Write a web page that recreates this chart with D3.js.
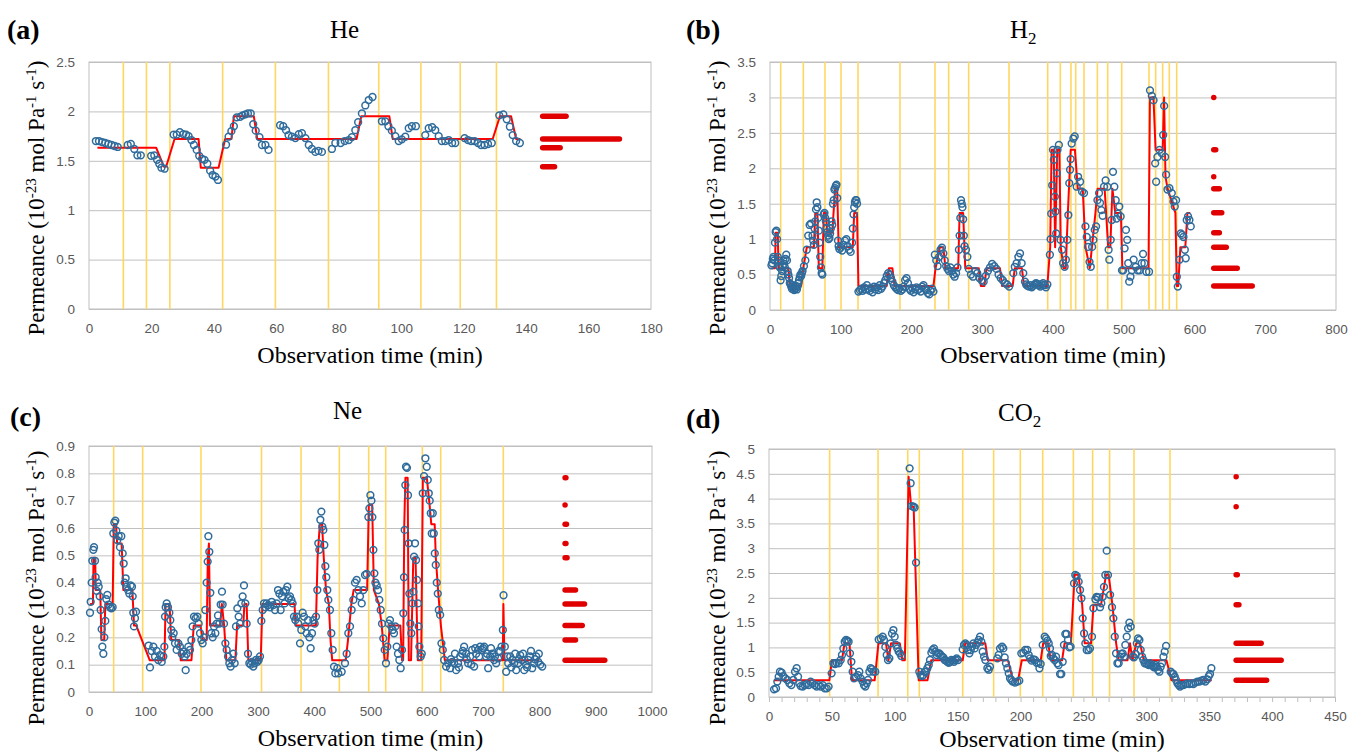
<!DOCTYPE html>
<html>
<head>
<meta charset="utf-8">
<title>Permeance of He, H2, Ne and CO2 versus observation time</title>
<style>
  body { margin: 0; background: #fff; }
  svg text { font-family: "Liberation Serif", "Times New Roman", serif; }
  .axis text { font-family: "Liberation Sans", Arial, sans-serif; }
</style>
</head>
<body>
<script src="https://d3js.org/d3.v7.min.js"></script>
<script>

// ---------- (a) He ----------
var heObs = [[2.2,1.70],[3.2,1.70],[4.2,1.69],[5.2,1.68],[6.2,1.67],[7.2,1.66],[8.2,1.65],[9.2,1.64],
  [12.4,1.66],[13.4,1.67],[14.5,1.62],[15.5,1.555],[16.6,1.555],
  [19.9,1.55],[20.9,1.555],[21.8,1.51],[22.5,1.47],[23.2,1.43],[24.2,1.42],
  [27.1,1.765],[28.1,1.765],[29.1,1.79],[30.2,1.77],[31.1,1.765],[31.9,1.75],[32.8,1.71],[33.6,1.66],[34.5,1.61],
  [35.3,1.55],[36.2,1.52],[37,1.51],[37.9,1.47],[38.8,1.40],[39.6,1.356],[40.5,1.34],[41.3,1.306],
  [43.9,1.663],[44.7,1.744],[45.6,1.80],[46.4,1.85],[47.3,1.94],[48.4,1.945],[49.2,1.96],[50.1,1.97],[50.9,1.98],
  [51.8,1.98],[52.6,1.87],[53.4,1.805],[54.6,1.74],[55.4,1.66],[56.5,1.66],[57.5,1.61],
  [61.2,1.86],[62.2,1.85],[63.1,1.81],[63.9,1.76],[65,1.745],[66.1,1.73],[67.2,1.77],[68.2,1.78],[69.3,1.73],
  [70.4,1.66],[71.4,1.62],[72.5,1.59],[73.5,1.60],[74.6,1.59],
  [77.8,1.62],[78.9,1.68],[80.6,1.68],[81.9,1.70],[83.2,1.71],[84.2,1.74],[85.3,1.81],[86.2,1.89],[87.4,1.98],
  [88.5,2.06],[89.6,2.115],[90.8,2.146],
  [93.8,1.90],[94.9,1.90],[95.9,1.85],[97,1.805],[98.1,1.75],[99.2,1.70],[100.2,1.717],[101.3,1.744],[102.4,1.83],
  [103.4,1.85],[104.7,1.85],
  [107.7,1.76],[108.8,1.83],[109.9,1.84],[110.9,1.81],[112,1.75],[113,1.70],[114.1,1.70],[115.2,1.71],[116.3,1.68],[117.3,1.68],
  [120.3,1.73],[121.4,1.71],[122.4,1.70],[123.5,1.70],[124.6,1.68],[125.6,1.66],[126.7,1.66],[127.8,1.67],[129,1.68],
  [131.4,1.96],[132.7,1.97],[133.8,1.92],[134.8,1.845],[135.7,1.76],[136.8,1.70],[138,1.68]];
var heFit = [[2.7,1.633],[21.5,1.633],[24.0,1.44],[24.7,1.44],[27.4,1.72],[35.1,1.72],[35.8,1.43],[41.5,1.43],
  [43.6,1.72],[45.6,1.72],[46.4,1.95],[52.8,1.95],[53.9,1.72],[85.7,1.72],[87.2,1.95],[96.2,1.95],[97.3,1.72],
  [129.3,1.72],[131.6,1.95],[135.2,1.95],[136.8,1.72],[138.2,1.72]];
var heEvents = [11, 18.4, 25.9, 42.8, 59.7, 76.7, 92.8, 106.3, 118.9, 130.5];
var heHistStart = 145.3;
var heHistLevel = [1.95, 1.72, 1.633, 1.44];
var heHistLen = [7.5, 24.6, 5.6, 3.8];
var heXTicks = [0, 20, 40, 60, 80, 100, 120, 140, 160, 180];
var heYTicks = [0, 0.5, 1, 1.5, 2, 2.5];

// ---------- (b) H2 ----------
var h2Obs = [[2,0.63],[3,0.66],[4,0.72],[5,0.75],[6,0.70],[7,0.95],[8,1.10],[9,1.12],[10,1.00],[11,0.75],[12,0.70],
  [13,0.62],[14,0.60],[15,0.42],[16,0.48],[17,0.55],[18,0.62],[19,0.70],[20,0.65],[21,0.60],[22,0.72],[23,0.78],
  [24,0.70],[25,0.55],[26,0.50],[27,0.45],[28,0.38],
  [29,0.36],[30,0.33],[31,0.30],[32,0.35],[33,0.32],[34,0.28],[35,0.30],[36,0.34],[37,0.31],[38,0.29],[39,0.33],
  [40,0.38],[41,0.42],[42,0.46],[43,0.50],[44,0.48],[45,0.52],
  [46,0.55],[48,0.62],[50,0.70],[52,0.85],[54,1.05],[56,1.20],[58,1.22],[60,1.05],[61,0.98],[62,0.92],[63,1.15],
  [64,1.25],[65,1.42],[66,1.52],[67,1.45],[68,1.30],[69,1.12],[70,0.95],[71,0.75],[72,0.60],[73,0.52],[74,0.50],
  [76,1.35],[77,1.37],[78,1.30],[79,1.25],[80,1.15],[81,1.10],[82,1.05],[83,1.00],[84,1.02],[85,1.08],[86,1.15],
  [87,1.25],[88,1.20],[89,1.50],[90,1.55],[91,1.70],[92,1.72],[93,1.75],[94,1.77],[95,1.58],[96,0.98],[97,0.90],[98,0.86],
  [100,0.88],[102,0.84],[104,0.92],[106,0.98],[108,1.00],[110,0.90],[112,0.85],[114,0.82],[116,0.95],[117,1.15],
  [118,1.35],[119,1.45],[120,1.52],[121,1.55],[122,1.55],[123,1.50],
  [125,0.26],[127,0.28],[129,0.30],[131,0.27],[133,0.32],[135,0.29],[137,0.35],[139,0.30],[141,0.27],[143,0.31],
  [145,0.25],[147,0.33],[149,0.29],[151,0.32],[153,0.28],[155,0.35],[157,0.30],[159,0.33],[161,0.38],[163,0.42],
  [165,0.48],[167,0.52],[169,0.50],[171,0.45],[173,0.40],[175,0.35],[177,0.32],[179,0.30],[181,0.28],[183,0.31],
  [185,0.27],[187,0.29],[189,0.33],[191,0.42],[193,0.45],[195,0.38],[197,0.30],[199,0.27],[201,0.31],[203,0.25],
  [205,0.29],[207,0.32],[209,0.28],[211,0.30],[213,0.26],[215,0.33],[217,0.35],[219,0.30],[221,0.28],[223,0.24],
  [225,0.22],[227,0.27],[229,0.30],[231,0.26],
  [233,0.78],[235,0.70],[237,0.62],[239,0.75],[241,0.85],[243,0.88],[245,0.80],[247,0.70],[249,0.62],[251,0.58],
  [253,0.55],[255,0.60],[257,0.55],[259,0.50],[261,0.47],[263,0.52],[265,0.60],[267,0.85],[268,1.05],[269,1.30],
  [270,1.55],[271,1.50],[272,1.45],[273,1.28],[274,1.05],[275,0.90],[277,0.85],[279,0.75],
  [281,0.58],[284,0.50],[287,0.47],[290,0.55],[293,0.52],[296,0.45],[299,0.42],[302,0.40],[305,0.48],[308,0.55],
  [311,0.60],[314,0.65],[317,0.62],[320,0.58],[323,0.50],[326,0.45],[329,0.42],[332,0.38],[335,0.36],[338,0.33],
  [343.9,0.52],[346,0.61],[348.6,0.66],[351,0.75],[353.4,0.80],[355.7,0.66],[358,0.52],[360.4,0.40],
  [362,0.36],[364,0.34],[366,0.33],[368,0.35],[370,0.32],[372,0.34],[374,0.36],[376,0.38],[378,0.37],[380,0.35],
  [382,0.33],[384,0.36],[386,0.38],[388,0.35],[390,0.32],[392,0.36],
  [395.6,0.78],[396.6,1.0],[397.5,1.36],[398.9,1.76],[399.9,2.26],[401.2,2.12],[402.6,1.60],[403.5,1.39],[404.5,1.08],
  [405.4,1.93],[406.4,2.26],[408.3,2.33],[410.6,0.99],[412.9,0.85],[414.3,0.66],[416.4,0.61],[418.2,0.71],[420.3,0.99],
  [421.7,1.34],[423,1.79],[424.1,1.98],[425,2.13],[426.4,2.35],[428.8,2.42],[430.7,2.45],[433.5,1.74],[435.5,1.88],
  [438.3,1.81],[441.1,1.67],[443.9,1.65],[445.9,1.18],[447.7,1.03],[449.5,0.89],[451.6,0.68],[453.4,0.61],[455.3,0.89],
  [457.2,0.99],[459,1.13],[460.9,1.18],[462.8,1.55],[465.1,1.65],[466.5,1.51],[468.4,1.41],[470.2,1.33],[472.1,1.74],
  [474.4,1.83],[476.8,1.74],[478.6,0.85],[479.6,0.71],[481.6,0.99],[483,1.27],[484.8,1.95],[486.7,1.74],[488.6,1.55],
  [489.9,1.29],[491.8,1.36],[493.7,1.46],[495.6,1.32],[497.5,0.56],[499.3,0.56],[501.2,0.87],[503.1,1.13],[504.9,0.99],
  [506.3,0.66],[507.7,0.40],[509.5,0.47],[511.4,0.56],[514,0.71],[516.9,0.61],[519.7,0.56],[522.5,0.56],[525.4,0.66],
  [527.3,0.79],[529.2,0.66],[532,0.54],[535.8,0.54],[537.1,3.10],[539.7,3.02],[542.1,2.96],[544.4,2.07],[545.8,1.81],
  [547.6,2.16],[550.5,2.26],[553.8,2.21],[555.7,2.47],[557.1,2.88],[558.5,2.16],[559.9,1.91],[561.8,1.70],[564.6,1.72],
  [567.9,1.65],[570.3,1.53],[572.1,1.46],[574,1.55],[575,0.47],[576.4,0.33],[578.7,0.71],[580.6,1.08],[582.5,1.06],
  [584.4,1.03],[586.3,0.85],[587.6,0.73],[589,1.27],[590.9,1.32],[592.8,1.27],[594.7,1.18]];
var h2Fit = [[2,0.59],[7,0.59],[8,1.09],[11,1.09],[12,0.59],[26,0.59],[28,0.34],[44,0.34],[47,0.59],[52,0.885],
  [62,0.885],[64,1.37],[67,1.37],[69,0.59],[74,0.59],[76,1.37],[79,1.37],[81,1.09],[88,1.09],[92,1.71],[95,1.71],
  [97,0.885],[117,0.885],[119,1.37],[123,1.37],[125,0.34],[165,0.34],[168,0.59],[173,0.59],[176,0.34],[231,0.34],
  [234,0.59],[240,0.885],[245,0.885],[248,0.59],[266,0.59],[268,1.37],[273,1.37],[276,0.59],[295,0.59],[298,0.34],
  [303,0.34],[306,0.59],[325,0.59],[328,0.34],[343,0.34],[346,0.59],[356,0.59],[359,0.34],[392,0.34],[396,0.885],
  [398,2.26],[401,2.26],[403,0.885],[406,2.26],[409,2.26],[411,0.885],[415,0.59],[418,0.59],[421,1.37],[425,2.26],
  [431,2.26],[435,1.71],[442,1.71],[446,0.885],[452,0.59],[455,0.885],[460,1.37],[463,1.71],[473,1.71],[478,0.885],
  [481,0.885],[484,1.71],[488,1.37],[496,1.37],[498,0.59],[535,0.59],[537,3.0],[542,3.0],[545,2.26],[555,2.26],
  [557,3.0],[559,1.88],[562,1.71],[573,1.37],[575,0.34],[577,0.34],[580,0.885],[587,0.885],[590,1.37],[594,1.37]];
var h2Events = [15.1, 47.1, 77.7, 100.4, 124.4, 183.7, 233.2, 252.5, 280.8, 337.8, 392.5, 410.3, 425.4, 432.1,
  443.8, 462.7, 477.3, 497.1, 535.7, 545.1, 555, 564.4, 574.8];
var h2HistStart = 627.2;
var h2HistLevel = [3.0, 2.262, 1.88, 1.712, 1.373, 1.091, 0.885, 0.588, 0.339];
var h2HistLen = [0, 2.8, 0, 7.9, 11.3, 7.9, 17.7, 33.2, 54.4];
var h2XTicks = [0, 100, 200, 300, 400, 500, 600, 700, 800];
var h2YTicks = [0, 0.5, 1, 1.5, 2, 2.5, 3, 3.5];

// ---------- (c) Ne ----------
var neObs = [[1.8,0.29],[3,0.33],[4.7,0.40],[5.9,0.48],[7.7,0.52],[8.9,0.53],[10.7,0.48],[11.8,0.42],[13.6,0.37],
  [15.4,0.40],[17.2,0.385],[19,0.35],[20.7,0.30],[22.5,0.23],[23.7,0.166],[25.5,0.14],[27.2,0.20],[29,0.26],[30.8,0.34],
  [32.6,0.355],[34.9,0.32],[37.3,0.31],[39.7,0.306],[42,0.31],[43.2,0.58],[45,0.62],[46.8,0.627],[48.5,0.59],
  [50.3,0.556],[52.7,0.57],[55,0.53],[57.4,0.57],[59.8,0.507],[61.6,0.47],[63.4,0.40],[65.1,0.416],[66.9,0.385],
  [69.3,0.373],[71.6,0.36],[74,0.39],[76.4,0.385],[77.6,0.35],[78.7,0.29],[79.9,0.24],[81.7,0.27],[83.5,0.294],
  [106,0.17],[108.3,0.09],[111.3,0.15],[114.3,0.166],[117.2,0.13],[120.2,0.15],[123.1,0.117],[126.1,0.135],
  [129.1,0.11],[132,0.13],[133.8,0.166],[135,0.276],[136.2,0.31],[138,0.324],[140.3,0.31],[142.7,0.29],[144.5,0.263],
  [146.2,0.227],[148,0.2],[150.4,0.215],[152.8,0.178],[155.7,0.154],[158.7,0.178],[161.6,0.166],[164.6,0.14],
  [167.6,0.148],[169.9,0.13],[171.7,0.08],[173.5,0.14],[176.4,0.166],[179.4,0.154],[181.8,0.19],[184.1,0.24],
  [186.5,0.276],[189.5,0.27],[192.4,0.276],[194.8,0.25],[197.2,0.215],[199.5,0.19],[201.9,0.178],[204.3,0.2],
  [206.6,0.3],[209,0.4],[210.8,0.477],[212,0.57],[213.7,0.513],[215.5,0.363],[217.3,0.215],[219.7,0.2],[222,0.24],
  [224.4,0.215],[226.8,0.25],[229.1,0.28],[231.5,0.25],[233.9,0.32],[236.2,0.367],[237.4,0.32],[239.8,0.25],
  [242.2,0.178],[244.5,0.154],[246.9,0.13],[249.3,0.105],[251.6,0.093],[254,0.117],[256.4,0.14],[258.7,0.105],
  [261.1,0.24],[263.5,0.306],[265.8,0.276],[268.2,0.25],[270.6,0.324],[272.9,0.35],[275.3,0.39],[277.7,0.324],
  [280,0.25],[282.4,0.14],[284.8,0.105],[287.2,0.1],[289.5,0.11],[291.9,0.093],[294.3,0.105],[296.6,0.117],[299,0.11],
  [301.4,0.117],[303.7,0.13],[306.1,0.26],[308.5,0.3],[310.8,0.324],[313.2,0.31],[315.6,0.324],[318.5,0.318],
  [321.5,0.31],[324.5,0.33],[327.4,0.318],[330.4,0.3],[333.3,0.324],[335.7,0.373],[338.1,0.36],[340.4,0.3],
  [342.8,0.35],[345.2,0.367],[347.5,0.324],[349.9,0.373],[352.3,0.385],[354.6,0.343],[357,0.35],[359.4,0.337],
  [361.7,0.324],[364.1,0.276],[366.5,0.263],[368.8,0.276],[371.8,0.25],[374.8,0.178],[377.1,0.227],[379.5,0.29],
  [381.9,0.276],[384.2,0.24],[386.6,0.215],[389,0.263],[391.4,0.2],[393.7,0.16],[396.1,0.215],[398.5,0.263],
  [400.8,0.25],[403.2,0.276],[405.6,0.373],[407.3,0.544],[409.1,0.52],[410.9,0.63],[412.7,0.66],[414.4,0.605],
  [416.2,0.593],[418,0.538],[419.8,0.46],[421.5,0.42],[423.3,0.373],[425.1,0.337],[428,0.3],[430.4,0.215],
  [432.8,0.154],[435.2,0.093],[437.5,0.068],[441.1,0.087],[442.8,0.068],[448.8,0.074],[454.7,0.105],[457.7,0.14],
  [460.6,0.215],[463.6,0.24],[466.5,0.3],[469.5,0.337],[472.5,0.4],[475.4,0.41],[478.4,0.373],[481.4,0.35],
  [484.4,0.324],[487.3,0.373],[490.3,0.428],[493.2,0.432],[496.2,0.64],[498,0.672],[499.8,0.72],[501.6,0.70],
  [503.3,0.64],[505.1,0.52],[506.9,0.434],[508.7,0.4],[511,0.39],[513.4,0.373],[515.7,0.337],[518.1,0.3],[520.5,0.25],
  [522.8,0.196],[525.2,0.154],[527.5,0.105],[529.9,0.166],[532.3,0.25],[534.6,0.263],[537,0.24],[539.4,0.227],
  [541.7,0.215],[544.1,0.24],[546.5,0.166],[548.8,0.14],[551.2,0.117],[553.6,0.087],[555.9,0.154],[558.3,0.288],
  [559.5,0.42],[560.7,0.593],[561.9,0.757],[563.1,0.824],[564.8,0.82],[566.6,0.72],[567.8,0.544],[569,0.36],
  [570.8,0.25],[572.5,0.215],[574.3,0.324],[576.1,0.367],[577.3,0.495],[579.1,0.544],[580.9,0.483],[582.6,0.41],
  [584.4,0.324],[585.6,0.24],[586.8,0.166],[589.2,0.13],[591,0.14],[592.8,0.727],[595.1,0.79],[597.5,0.855],
  [599.9,0.824],[601.7,0.776],[603.5,0.727],[605.2,0.70],[607,0.654],[608.8,0.58],[610.6,0.654],[612.4,0.58],
  [614.2,0.507],[615.9,0.465],[617.7,0.4],[619.5,0.36],[621.3,0.3],[623.7,0.282],[626,0.178],[628.4,0.154],
  [630.8,0.117],[634.3,0.093],[637.9,0.105],[641.4,0.087],[643,0.12],[645,0.11],[648.5,0.105],[650,0.14],[652.1,0.08],
  [655.6,0.105],[657,0.09],[659.2,0.13],[662.8,0.14],[664,0.15],[666.3,0.166],[669.9,0.14],[671,0.12],[673.4,0.105],
  [677,0.13],[679,0.1],[680.5,0.154],[684.1,0.093],[686,0.16],[687.7,0.14],[691.2,0.154],[693,0.13],[694.8,0.166],
  [698.3,0.154],[700,0.16],[701.9,0.166],[705.4,0.13],[707,0.14],[709,0.087],[712.5,0.13],[714,0.16],[716.1,0.14],
  [719.6,0.117],[721,0.13],[723.2,0.105],[726.8,0.123],[728,0.15],[730.3,0.148],[732.7,0.166],[735.1,0.227],
  [736.3,0.354],[738.6,0.166],[741,0.074],[743,0.13],[744.6,0.105],[748.1,0.13],[750,0.09],[751.7,0.117],[755.2,0.105],
  [757,0.14],[758.8,0.08],[762.3,0.105],[764,0.12],[765.9,0.135],[769.4,0.117],[771,0.14],[773,0.08],[776.5,0.1],
  [778,0.09],[780.1,0.117],[783.7,0.13],[785,0.15],[787.2,0.087],[790.8,0.105],[792,0.12],[794.3,0.13],[797.9,0.11],
  [799,0.14],[801.5,0.1],[805,0.093]];
var neFit = [[2,0.322],[7,0.322],[8,0.491],[11,0.491],[12,0.373],[20,0.373],[22,0.19],[27,0.19],[29,0.322],
  [42,0.322],[44,0.614],[48,0.614],[50,0.543],[58,0.543],[61,0.373],[77,0.373],[80,0.243],[84,0.243],[108,0.116],
  [134,0.116],[136,0.322],[143,0.322],[146,0.19],[160,0.19],[163,0.116],[182,0.116],[186,0.243],[198,0.243],
  [202,0.19],[209,0.19],[211,0.491],[213,0.543],[215,0.243],[233,0.243],[236,0.322],[240,0.243],[244,0.116],
  [260,0.116],[263,0.243],[274,0.243],[276,0.322],[280,0.322],[283,0.116],[305,0.116],[308,0.322],[365,0.322],
  [367,0.243],[403,0.243],[406,0.491],[410,0.614],[414,0.614],[417,0.491],[421,0.373],[426,0.322],[429,0.19],
  [432,0.116],[456,0.116],[460,0.19],[466,0.322],[470,0.373],[494,0.373],[497,0.684],[503,0.684],[506,0.373],
  [515,0.322],[520,0.243],[525,0.116],[530,0.116],[534,0.243],[553,0.243],[556,0.116],[558,0.116],[560,0.614],
  [562,0.784],[566,0.784],[568,0.116],[572,0.116],[576,0.491],[580,0.491],[584,0.116],[590,0.116],[593,0.784],
  [600,0.784],[605,0.684],[608,0.614],[614,0.614],[616,0.491],[620,0.373],[625,0.243],[628,0.19],[632,0.116],
  [735,0.116],[736,0.322],[738,0.116],[800,0.116]];
var neEvents = [43.8, 95.3, 198.9, 306.4, 376.6, 444.7, 496.8, 527, 592.1, 624.7, 735.9];
var neHistStart = 845.6;
var neHistLevel = [0.784, 0.684, 0.614, 0.543, 0.491, 0.373, 0.322, 0.243, 0.19, 0.116];
var neHistLen = [1.5, 0, 2.5, 1.5, 3.5, 18.5, 34.5, 30.5, 18.5, 70.5];
var neXTicks = [0, 100, 200, 300, 400, 500, 600, 700, 800, 900, 1000];
var neYTicks = [0, 0.1, 0.2, 0.3, 0.4, 0.5, 0.6, 0.7, 0.8, 0.9];

// ---------- (d) CO2 ----------
var co2Obs = [[4,0.155],[5.6,0.175],[6.6,0.31],[7.7,0.41],[8.7,0.51],[10.1,0.49],[11.4,0.42],[13,0.376],[14.6,0.343],
  [16.2,0.276],[17.8,0.24],[19.3,0.343],[20.7,0.51],[22,0.58],[23.1,0.41],[24.1,0.276],[25.2,0.22],[26.8,0.21],
  [28.4,0.24],[29.9,0.26],[31.5,0.24],[33.1,0.31],[34.7,0.276],[36.3,0.24],[37.9,0.21],[39.5,0.24],[41.1,0.21],
  [42.7,0.24],[44.3,0.175],[45.9,0.175],[47.4,0.21],
  [49.8,0.477],[51.2,0.68],[52.5,0.665],[53.8,0.69],[55.4,0.68],[57,0.746],[58,0.847],[59.1,0.98],[60.2,1.115],
  [61.2,1.15],[62.3,1.136],[63.3,1.115],[64.4,0.88],[65.5,0.71],[66.5,0.51],[67.6,0.376],[69.2,0.41],[70.8,0.44],
  [71.8,0.51],[72.9,0.376],[74.5,0.31],[75.5,0.24],[76.6,0.21],[77.7,0.276],[78.7,0.343],[79.8,0.51],[80.8,0.58],
  [81.9,0.56],[83,0.51],[84.5,0.51],
  [87.2,1.16],[88.8,1.18],[90.4,1.216],[91.4,1.15],[92.5,1.01],[93.6,0.847],[94.6,0.746],[95.7,0.78],[96.7,1.08],
  [97.8,1.28],[98.9,1.35],[99.9,1.216],[101,1.05],[102,0.98],[103.1,0.914],[104.2,0.88],[105.2,0.827],
  [111.8,4.61],[112.6,4.31],[113.4,3.85],[114.8,3.84],[115.8,3.82],[116.9,2.71],
  [119.5,0.51],[120.6,0.44],[121.7,0.42],[122.7,0.44],[123.8,0.51],[124.8,0.51],[125.9,0.58],[127,0.645],[128,0.746],
  [129.1,0.894],[130.1,0.948],[131.2,0.98],[132.3,0.914],[133.3,0.847],[134.4,0.88],[135.4,0.88],[136.5,0.847],
  [137.6,0.813],[138.6,0.8],[139.7,0.746],[140.7,0.733],[141.8,0.71],[142.9,0.69],[143.9,0.71],[145,0.746],
  [146,0.733],[147.1,0.71],[148.2,0.746],[149.2,0.78],[150.3,0.746],
  [154,0.96],[155,1.05],[156.1,1.08],[157.2,1.05],[158.2,0.948],[159.3,0.88],[160.4,0.948],[161.4,1.015],[162.5,1.08],
  [163.5,0.98],[164.6,1.05],[165.7,1.095],[166.7,1.15],[167.8,1.216],[168.8,1.115],[169.9,0.914],[171,0.813],
  [172,0.746],[173.6,0.58],[174.7,0.55],[175.7,0.61],
  [181.5,0.78],[182.6,0.85],[183.7,0.98],[185.3,1.015],[186.3,0.98],[187.4,0.8],[188.4,0.68],[189.5,0.58],
  [190.6,0.477],[191.6,0.376],[192.7,0.343],[193.7,0.31],[195.6,0.29],[197.5,0.31],[199,0.33],
  [200.6,0.88],[202.2,0.894],[203.7,0.948],[205.4,0.948],[206.5,0.847],[207.5,0.78],[208.8,0.733],[210.2,0.76],
  [211.5,0.746],[212.8,0.69],[214.2,0.69],[215,0.58],[216,0.665],[217.6,1.05],[219.2,1.216],[220.3,1.18],
  [221.3,1.136],[222.4,1.08],[223.4,0.98],[224,0.827],[225,0.847],[226.1,0.78],[227.1,0.746],[228.2,0.813],
  [229.2,0.68],[230.3,0.645],[231.4,0.464],[232.4,0.464],[233.5,0.71],[234.5,1.05],[235.6,1.27],[236.6,1.27],
  [237.7,1.15],[238.8,1.0],[239.8,1.015],
  [242.5,2.29],[243.5,2.46],[244.6,2.44],[246.2,2.325],[247.3,2.157],[248.4,1.99],[249.4,1.586],[250.5,1.28],
  [251.5,1.08],[252.6,0.948],[254,0.948],[255.2,0.98],[256.8,1.216],[257.9,1.79],[259.5,1.97],[260.5,2.02],
  [261.6,2.01],[263.2,1.81],[264.2,1.89],[265.3,2.02],[266.3,2.22],[267.4,2.46],[268.5,2.95],[269.5,2.46],
  [271.2,2.06],[272.7,1.81],[273.8,1.586],[274.9,1.216],[275.9,0.88],[277,0.68],[278,0.68],[279.1,0.813],
  [280.2,0.867],[281.2,0.88],[282.3,0.813],[283.3,1.05],[284.4,1.216],[285.5,1.384],[286.5,1.5],[287.6,1.42],
  [289.2,0.813],[290.2,0.8],[291.3,0.867],[292.4,1.08],[293.4,1.18],[294.5,1.15],[295.5,0.948],[296.6,0.813],
  [297.6,0.746],[298.7,0.68],[299.8,0.68],[300.8,0.665],[301.9,0.645],[302.9,0.68],[304,0.645],[305.1,0.625],
  [306.1,0.6],[307.2,0.645],[308.3,0.61],[309.3,0.544],[310.4,0.51],[311.4,0.61],[312.5,0.68],[313.6,0.813],
  [314.6,0.914],[315.7,1.03],
  [319.4,0.51],[320.4,0.477],[321.5,0.464],[322.6,0.41],[323.6,0.343],[324.7,0.276],[325.8,0.24],[326.8,0.21],
  [327.9,0.24],[329.5,0.24],[331.1,0.26],[332.6,0.276],[334.2,0.26],[335.8,0.276],[337.4,0.26],[339,0.29],
  [340.6,0.31],[342.2,0.31],[343.7,0.33],[345.3,0.343],[346.9,0.31],[348.5,0.356],[349.6,0.42],[350.6,0.464],[351.7,0.58]];
var co2Fit = [[4,0.336],[48,0.336],[50,0.74],[58,0.74],[60,1.082],[64,1.082],[66,0.336],[84,0.336],[87,1.082],
  [93,1.082],[95,0.74],[97,1.082],[104,1.082],[106,0.74],[108,0.74],[111,4.44],[113,3.837],[115,3.837],[119,0.336],
  [126,0.336],[129,0.74],[154,0.74],[156,1.082],[172,1.082],[174,0.74],[190,0.74],[194,0.336],[198,0.336],
  [201,0.74],[216,0.74],[218,1.082],[222,1.082],[224,0.74],[233,0.74],[235,1.082],[240,1.082],[243,2.466],
  [246,2.466],[249,1.861],[251,1.082],[256,1.082],[258,1.861],[264,1.861],[268,2.466],[270,2.466],[273,1.861],
  [276,1.082],[278,0.74],[285,0.74],[287,1.082],[289,0.74],[292,1.082],[295,1.082],[298,0.74],[316,0.74],
  [320,0.336],[352,0.336]];
var co2Events = [48.2, 86.7, 110.3, 119.5, 154, 178.6, 199.8, 217.6, 242, 257.3, 270.8, 290.2, 318.8];
var co2HistStart = 371.4;
var co2HistLevel = [4.44, 3.837, 2.466, 1.861, 1.082, 0.74, 0.336];
var co2HistLen = [0, 0, 0.9, 2.2, 19.9, 35.8, 24.2];
var co2XTicks = [0, 50, 100, 150, 200, 250, 300, 350, 400, 450];
var co2YTicks = [0, 0.5, 1, 1.5, 2, 2.5, 3, 3.5, 4, 4.5, 5];

// ---------- drawing ----------
var svg = d3.select("body").append("svg")
    .attr("width", 1349)
    .attr("height", 755);

var panels = [
  {tag: "(a)", tagX: 7, tagY: 39, gas: "He", sub: "", gasX: 330, gasY: 38,
   left: 89, right: 651, top: 62, bottom: 309, xMax: 180, yMax: 2.5,
   xTicks: heXTicks, yTicks: heYTicks, obs: heObs, fit: heFit, events: heEvents,
   histStart: heHistStart, histLevel: heHistLevel, histLen: heHistLen,
   yLabX: 44, yLabY: 198, xLabY: 363, minor: 0},
  {tag: "(b)", tagX: 686, tagY: 39, gas: "H", sub: "2", gasX: 1010, gasY: 38,
   left: 770, right: 1336, top: 62, bottom: 310, xMax: 800, yMax: 3.5,
   xTicks: h2XTicks, yTicks: h2YTicks, obs: h2Obs, fit: h2Fit, events: h2Events,
   histStart: h2HistStart, histLevel: h2HistLevel, histLen: h2HistLen,
   yLabX: 725, yLabY: 198, xLabY: 363, minor: 0},
  {tag: "(c)", tagX: 10, tagY: 426, gas: "Ne", sub: "", gasX: 333, gasY: 419,
   left: 89, right: 652, top: 446, bottom: 692, xMax: 1000, yMax: 0.9,
   xTicks: neXTicks, yTicks: neYTicks, obs: neObs, fit: neFit, events: neEvents,
   histStart: neHistStart, histLevel: neHistLevel, histLen: neHistLen,
   yLabX: 44, yLabY: 588, xLabY: 746, minor: 0},
  {tag: "(d)", tagX: 686, tagY: 428, gas: "CO", sub: "2", gasX: 998, gasY: 421,
   left: 769, right: 1335, top: 449, bottom: 697, xMax: 450, yMax: 5,
   xTicks: co2XTicks, yTicks: co2YTicks, obs: co2Obs, fit: co2Fit, events: co2Events,
   histStart: co2HistStart, histLevel: co2HistLevel, histLen: co2HistLen,
   yLabX: 725, yLabY: 588, xLabY: 747, minor: 10}
];

panels.forEach(drawPanel);

function drawPanel(p) {
  var g = svg.append("g");
  var x = d3.scaleLinear().domain([0, p.xMax]).range([p.left, p.right]);
  var y = d3.scaleLinear().domain([0, p.yMax]).range([p.bottom, p.top]);
  var fmt = d3.format("~g");

  // horizontal grid + y tick labels
  var ya = g.append("g").attr("class", "axis")
      .attr("transform", "translate(" + p.left + ",0)")
      .call(d3.axisLeft(y).tickValues(p.yTicks).tickSize(-(p.right - p.left))
            .tickPadding(14).tickFormat(fmt));
  ya.select(".domain").remove();
  ya.selectAll("line").attr("stroke", "#c0c0c0");
  ya.selectAll("text").attr("fill", "#595959").style("font-size", "13.5px");

  // x tick labels
  var xa = g.append("g").attr("class", "axis")
      .attr("transform", "translate(0," + p.bottom + ")")
      .call(d3.axisBottom(x).tickValues(p.xTicks).tickSize(0).tickPadding(14).tickFormat(fmt));
  xa.select(".domain").remove();
  xa.selectAll("text").attr("fill", "#595959").style("font-size", "13.5px");

  if (p.minor) {
    var ma = g.append("g")
        .attr("transform", "translate(0," + p.bottom + ")")
        .call(d3.axisBottom(x).tickValues(d3.range(0, p.xMax + 1, p.minor)).tickSize(5).tickFormat(""));
    ma.select(".domain").remove();
    ma.selectAll("line").attr("stroke", "#bfbfbf");
  }

  // plot frame
  g.append("rect")
      .attr("x", p.left).attr("y", p.top)
      .attr("width", p.right - p.left).attr("height", p.bottom - p.top)
      .attr("fill", "none").attr("stroke", "#bfbfbf");

  // event markers
  g.selectAll(".ev").data(p.events).enter().append("line")
      .attr("x1", function(d) { return x(d); }).attr("x2", function(d) { return x(d); })
      .attr("y1", p.top).attr("y2", p.bottom)
      .attr("stroke", "#ffd760").attr("stroke-width", 1.6);

  // step fit
  var line = d3.line().x(function(d) { return x(d[0]); }).y(function(d) { return y(d[1]); });
  g.append("path").datum(p.fit)
      .attr("d", line).attr("fill", "none")
      .attr("stroke", "#ff0000").attr("stroke-width", 2).attr("stroke-linejoin", "round");

  // observed points
  g.selectAll(".pt").data(p.obs).enter().append("circle")
      .attr("cx", function(d) { return x(d[0]); })
      .attr("cy", function(d) { return y(d[1]); })
      .attr("r", 3.4)
      .attr("fill", "none").attr("stroke", "#2f6c9c").attr("stroke-width", 1.5);

  // level histogram
  g.selectAll(".hist").data(p.histLevel).enter().append("line")
      .attr("x1", x(p.histStart))
      .attr("x2", function(d, i) { return x(p.histStart + p.histLen[i]); })
      .attr("y1", function(d) { return y(d); }).attr("y2", function(d) { return y(d); })
      .attr("stroke", "#e00000").attr("stroke-width", 5.5).attr("stroke-linecap", "round");

  // panel tag and gas name
  g.append("text").attr("x", p.tagX).attr("y", p.tagY)
      .style("font-size", "28px").style("font-weight", "bold").text(p.tag);
  var tt = g.append("text").attr("x", p.gasX).attr("y", p.gasY).style("font-size", "25px");
  tt.append("tspan").text(p.gas);
  if (p.sub) tt.append("tspan").attr("dy", 6).style("font-size", "17px").text(p.sub);

  // axis titles
  g.append("text")
      .attr("x", (p.left + p.right) / 2).attr("y", p.xLabY)
      .attr("text-anchor", "middle").style("font-size", "24px")
      .text("Observation time (min)");

  var yl = g.append("text")
      .attr("transform", "translate(" + p.yLabX + "," + p.yLabY + ") rotate(-90)")
      .attr("text-anchor", "middle").style("font-size", "23px");
  yl.append("tspan").text("Permeance (10");
  yl.append("tspan").attr("dy", -8).style("font-size", "15px").text("-23");
  yl.append("tspan").attr("dy", 8).text(" mol Pa");
  yl.append("tspan").attr("dy", -8).style("font-size", "15px").text("-1");
  yl.append("tspan").attr("dy", 8).text(" s");
  yl.append("tspan").attr("dy", -8).style("font-size", "15px").text("-1");
  yl.append("tspan").attr("dy", 8).text(")");
}
</script>
</body>
</html>
